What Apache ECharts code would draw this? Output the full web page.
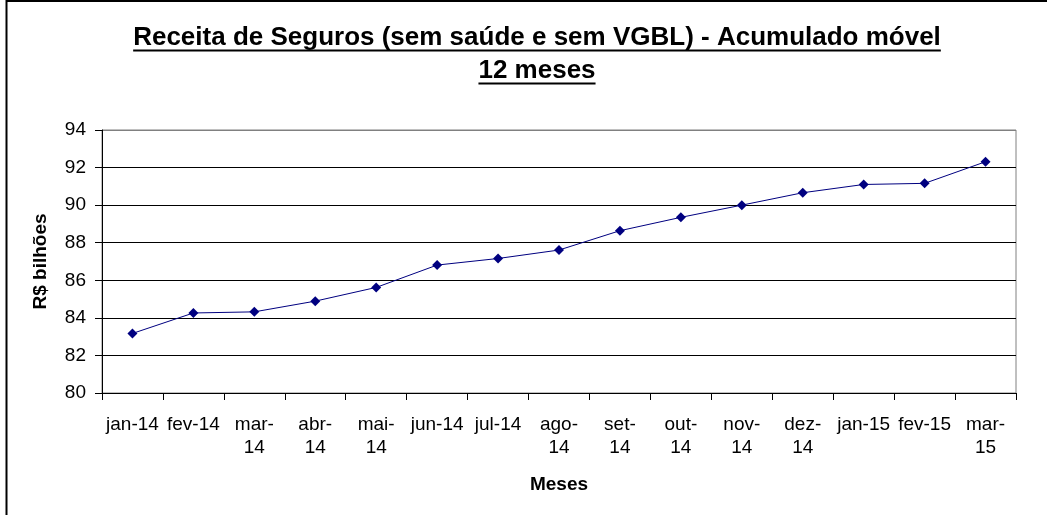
<!DOCTYPE html>
<html lang="pt">
<head>
  <meta charset="UTF-8">
  <title>Receita de Seguros</title>
</head>
<body style="margin:0;background:#fff;">
  <div id="chart" style="width:1047px;height:515px;"></div>
</body>
</html>
<script src="https://cdn.jsdelivr.net/npm/echarts@6/dist/echarts.min.js"></script>
<script>
  // meses (eixo x)
  var meses = ['jan-14', 'fev-14', 'mar-14', 'abr-14', 'mai-14', 'jun-14', 'jul-14', 'ago-14',
    'set-14', 'out-14', 'nov-14', 'dez-14', 'jan-15', 'fev-15', 'mar-15'];
  // rótulos que o Excel quebrou em duas linhas
  var quebrados = ['mar-14', 'abr-14', 'mai-14', 'ago-14', 'set-14', 'out-14', 'nov-14', 'dez-14', 'mar-15'];
  // receita acumulada 12 meses, R$ bilhões
  var receita = [83.17, 84.26, 84.32, 84.89, 85.62, 86.81, 87.16, 87.61,
    88.64, 89.35, 90.0, 90.66, 91.1, 91.16, 92.31];

  var fonte = 'Arial, "Liberation Sans", sans-serif';
  var titulo1 = 'Receita de Seguros (sem saúde e sem VGBL) - Acumulado móvel';
  var titulo2 = '12 meses';
  var tamTitulo = 26;

  // largura do texto, para desenhar o sublinhado
  function larg(txt, size) {
    var c = document.createElement('canvas').getContext('2d');
    c.font = 'bold ' + size + 'px ' + fonte;
    return c.measureText(txt).width;
  }
  var cx = 537;
  var w1 = larg(titulo1, tamTitulo), w2 = larg(titulo2, tamTitulo);

  var myChart = echarts.init(document.getElementById('chart'));
  var option = {
    backgroundColor: '#fff',
    animation: false,
    textStyle: { fontFamily: fonte },
    graphic: [
      { type: 'line', shape: { x1: 6.5, y1: 0, x2: 6.5, y2: 515 }, style: { stroke: '#000', lineWidth: 2 } },
      { type: 'line', shape: { x1: 6, y1: 1, x2: 1047, y2: 1 }, style: { stroke: '#000', lineWidth: 2 } },
      // título como texto + sublinhado
      { type: 'text', x: cx, y: 25, style: { text: titulo1, font: 'bold ' + tamTitulo + 'px ' + fonte, fill: '#000', align: 'center', verticalAlign: 'top' } },
      { type: 'text', x: cx, y: 58, style: { text: titulo2, font: 'bold ' + tamTitulo + 'px ' + fonte, fill: '#000', align: 'center', verticalAlign: 'top' } },
      { type: 'line', shape: { x1: cx - w1 / 2, y1: 50.5, x2: cx + w1 / 2, y2: 50.5 }, style: { stroke: '#000', lineWidth: 2 } },
      { type: 'line', shape: { x1: cx - w2 / 2, y1: 83.5, x2: cx + w2 / 2, y2: 83.5 }, style: { stroke: '#000', lineWidth: 2 } }
    ],
    grid: {
      left: 102, right: 31, top: 130, bottom: 122,
      show: true, borderColor: '#808080', borderWidth: 1
    },
    xAxis: {
      type: 'category',
      data: meses,
      name: 'Meses',
      nameLocation: 'middle',
      nameGap: 82,
      nameTextStyle: { fontSize: 19, fontWeight: 'bold', color: '#000' },
      axisLine: { lineStyle: { color: '#000' } },
      axisTick: { show: true, alignWithLabel: false, length: 7, lineStyle: { color: '#000' } },
      axisLabel: {
        interval: 0, margin: 20, fontSize: 19, color: '#000', lineHeight: 23,
        formatter: function (v) {
          return quebrados.indexOf(v) >= 0 ? v.replace('-', '-\n') : v;
        }
      }
    },
    yAxis: {
      type: 'value',
      min: 80, max: 94, interval: 2,
      name: 'R$ bilhões',
      nameLocation: 'middle',
      nameGap: 52,
      nameTextStyle: { fontSize: 19, fontWeight: 'bold', color: '#000' },
      axisLine: { show: true, lineStyle: { color: '#000' } },
      axisTick: { show: true, length: 7, lineStyle: { color: '#000' } },
      axisLabel: { margin: 16, fontSize: 19, color: '#000' },
      splitLine: {
        lineStyle: { color: ['#000', '#000', '#000', '#000', '#000', '#000', '#000', '#808080'], width: 1 }
      }
    },
    series: [{
      name: 'Receita',
      type: 'line',
      data: receita,
      symbol: 'diamond',
      symbolSize: 10,
      lineStyle: { color: '#000080', width: 1 },
      itemStyle: { color: '#000080' }
    }]
  };
  myChart.setOption(option);
</script>
